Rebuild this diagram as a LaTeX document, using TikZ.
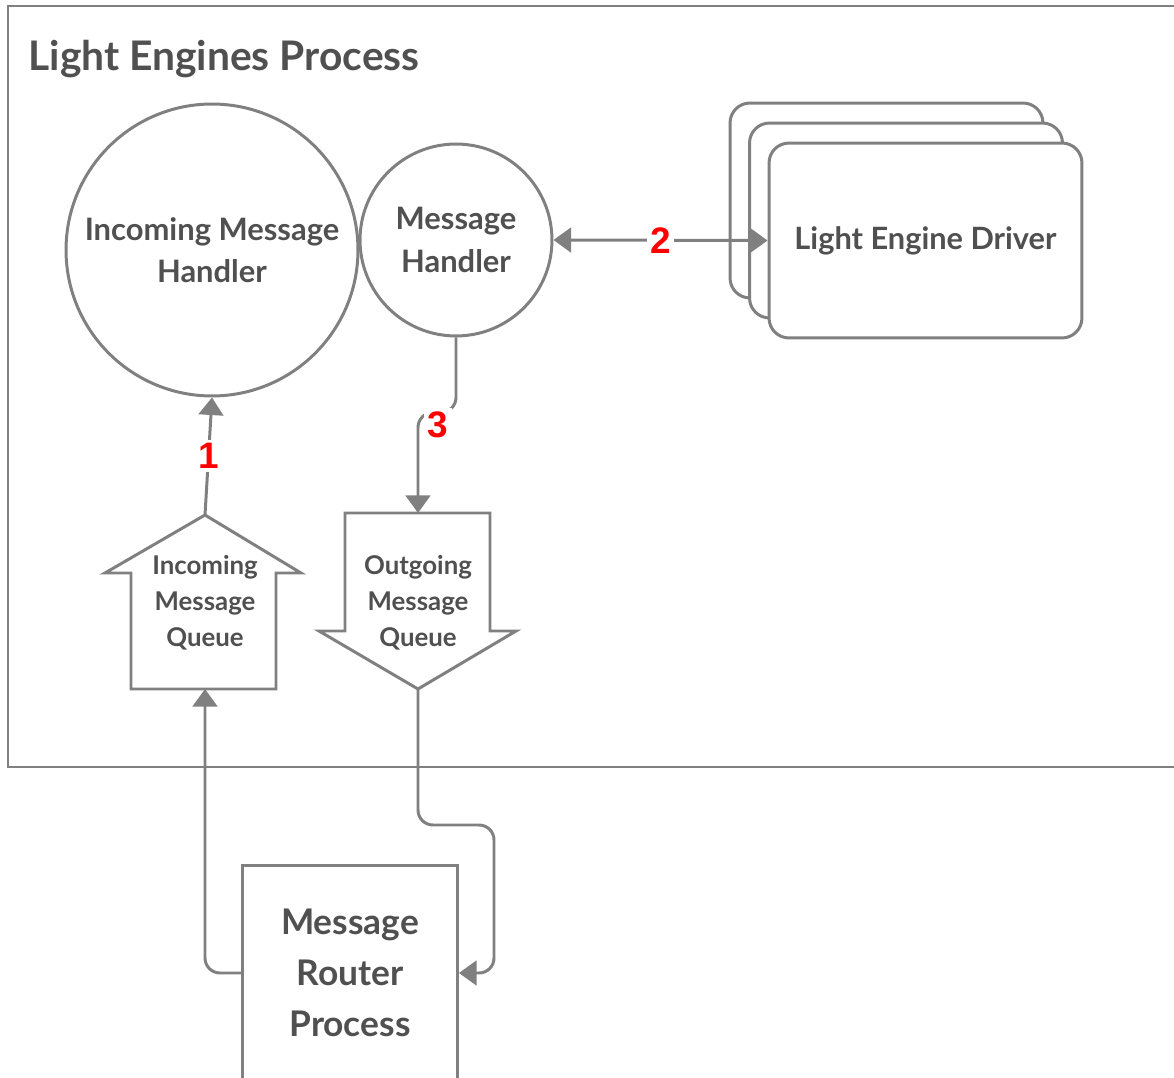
\documentclass[tikz,border=0pt]{standalone}
\usepackage{fontspec}
\setmainfont{Lato}[UprightFont=* Bold, BoldFont=* Black]
\newfontfamily\tagfont{Liberation Sans}
\definecolor{LinkGray}{RGB}{128,128,128}
\definecolor{TextGray}{RGB}{80,80,80}
\definecolor{TagRed}{RGB}{255,0,0}
\usetikzlibrary{arrows.meta}

\begin{document}
\begin{tikzpicture}[
    x=0.02cm, y=-0.02cm,
    line width=1.7pt,
    >={Triangle[length=10pt, width=14pt]},
    every node/.style={text=TextGray},
    blob/.style={circle, draw=LinkGray, fill=white, minimum size=#1, inner sep=0pt, align=center, font=\fontsize{17.6}{24}\selectfont},
    card/.style={rectangle, rounded corners=0.4cm, draw=LinkGray, fill=white, minimum width=6.26cm, minimum height=3.9cm, font=\fontsize{17.5}{24}\selectfont},
    queue/.style={draw=LinkGray, fill=white, line join=miter},
    qtext/.style={align=center, font=\fontsize{14.7}{20.5}\selectfont},
    link/.style={draw=LinkGray, ->},
    tag/.style={fill=white, text=TagRed, inner sep=2pt, font=\tagfont\bfseries\fontsize{21}{24}\selectfont}
]
    \path[use as bounding box, clip] (0,0) rectangle (1174,1078);

    \draw[LinkGray] (8,6) rectangle (1200,767);
    \node[anchor=base west, inner sep=0pt, font=\fontsize{23.2}{30}\selectfont] (title) at (27,71) {Light Engines Process};

    \node[blob=5.84cm] (inhandler) at (212,250) {Incoming Message\\Handler};
    \node[blob=3.84cm] (handler)   at (456,240) {Message\\Handler};

    \node[card] (ledback) at (886.5,200.5) {};
    \node[card] (ledmid)  at (906,220.5) {};
    \node[card] (led)     at (925.5,240.5) {Light Engine Driver};

    \draw[queue] (131,689) -- (131,573) -- (105,573) -- (205,515) coordinate (inqtop)
        -- (301,573) -- (276,573) -- (276,689) -- cycle;
    \draw[queue] (345,513) -- (418,513) coordinate (outqtop) -- (490,513) -- (490,631) -- (516,631)
        -- (418,689) coordinate (outqbot) -- (319,631) -- (345,631) -- cycle;
    \node[qtext] (inq)  at (205,603) {Incoming\\Message\\Queue};
    \node[qtext] (outq) at (418,603) {Outgoing\\Message\\Queue};
    \coordinate (inqbot) at (205,689);

    \node[rectangle, draw=LinkGray, fill=white, minimum width=4.3cm, minimum height=4.32cm, align=center,
          font=\fontsize{20.1}{29}\selectfont] (router) at (350,973) {Message\\Router\\Process};

    \coordinate (loop) at (494,825);
    \draw[link, rounded corners=0.3cm] (router.west) -| (inqbot);
    \draw[link, rounded corners=0.3cm] (outqbot) |- (loop) |- (router.east);

    \draw[link] (inqtop) -- (inhandler.south) node[tag, midway] (n1) {1};
    \draw[link, <->] (handler.east) -- (led.west) node[tag, midway] (n2) {2};
    \draw[link, rounded corners=0.3cm] (handler.south) -- ++(0,75) -| (outqtop);
    \node[tag] (n3) at (438,425) {3};
\end{tikzpicture}
\end{document}
